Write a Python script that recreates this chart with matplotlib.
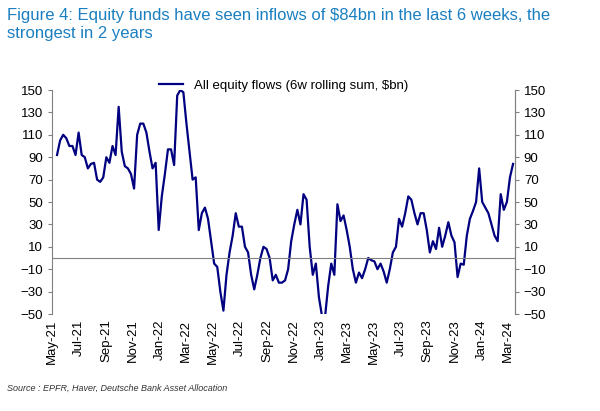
import pandas as pd
import matplotlib.pyplot as plt
import matplotlib.dates as mdates

plt.rcParams["font.family"] = "Liberation Sans"

# 6-week rolling sum of equity fund flows, $bn (weekly)
flows = [92, 105, 110, 107, 100, 100, 92, 112, 92, 90, 80, 84, 85, 70, 68, 72,
         90, 85, 100, 92, 135, 95, 82, 80, 75, 62, 110, 120, 120, 112, 95, 80,
         85, 25, 55, 75, 97, 97, 83, 145, 150, 148, 120, 95, 70, 72, 25, 40,
         45, 35, 15, -5, -8, -30, -47, -15, 5, 20, 40, 28, 28, 10, 5, -15,
         -28, -15, 0, 10, 8, 0, -20, -15, -22, -22, -20, -10, 15, 30, 43, 30,
         57, 52, 10, -15, -5, -35, -52, -52, -25, -5, -15, 48, 33, 38, 25, 10,
         -10, -22, -13, -18, -10, 0, -2, -3, -10, -5, -12, -22, -10, 5, 10, 35,
         28, 40, 55, 52, 40, 30, 40, 40, 25, 5, 15, 8, 27, 10, 20, 32,
         20, 14, -17, -5, -6, 20, 35, 42, 50, 80, 50, 45, 40, 30, 20, 15,
         57, 43, 50, 72, 84]
dates = pd.date_range(end="2024-03-13", periods=len(flows), freq="7D")

tick_months = pd.date_range("2021-05-01", "2024-03-01", freq="2MS")
yticks = list(range(-50, 151, 20))

navy = "#000080"
fig = plt.figure(figsize=(6, 4.11), dpi=100)
fig.text(0.012, 0.98, "Figure 4: Equity funds have seen inflows of $84bn in the last 6 weeks, the\nstrongest in 2 years",
         ha="left", va="top", fontsize=12, color="#1a7fc1", linespacing=1.25)

ax = fig.add_axes([0.087, 0.236, 0.771, 0.545])
ax.plot(dates, flows, color=navy, lw=1.6, label="All equity flows (6w rolling sum, $bn)")
ax.axhline(0, color="#808080", lw=0.8)
ax.set_ylim(-50, 150)
ax.set_xlim(pd.Timestamp("2021-05-01"), dates[-1] + pd.Timedelta(days=4))
ax.set_yticks(yticks)
ax.set_xticks(tick_months)
ax.xaxis.set_major_formatter(mdates.DateFormatter("%b-%y"))
ax.tick_params(axis="x", rotation=90, labelsize=9.5, length=0, pad=4)
ax.tick_params(axis="y", labelsize=9.5, length=3, color="#808080")
for s in ["top", "bottom"]:
    ax.spines[s].set_visible(False)
ax.spines["left"].set_color("#808080")
ax.spines["right"].set_color("#808080")

ax2 = ax.twinx()
ax2.set_ylim(-50, 150)
ax2.set_yticks(yticks)
ax2.tick_params(axis="y", labelsize=9.5, length=3, color="#808080")
for s in ["top", "bottom", "left"]:
    ax2.spines[s].set_visible(False)
ax2.spines["right"].set_color("#808080")

ax.legend(loc="upper center", bbox_to_anchor=(0.5, 1.1), frameon=False, fontsize=9.5,
          handlelength=1.8)

fig.text(0.012, 0.05, "Source : EPFR, Haver, Deutsche Bank Asset Allocation", fontsize=6.5,
         style="italic", color="#333333")

fig.savefig("out.png", dpi=100)
